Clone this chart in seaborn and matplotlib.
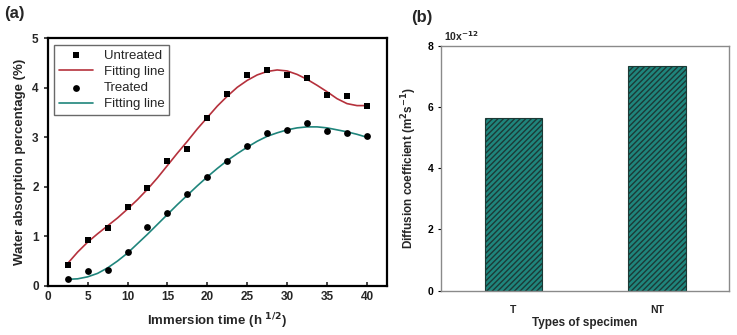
import numpy as np
import pandas as pd
import matplotlib
matplotlib.use("Agg")
import matplotlib.pyplot as plt
import seaborn as sns

# measured points (a)
time_pts = [2.5, 5, 7.5, 10, 12.5, 15, 17.5, 20, 22.5, 25, 27.5, 30, 32.5, 35, 37.5, 40]
untreated = [0.42, 0.93, 1.17, 1.59, 1.97, 2.53, 2.77, 3.39, 3.87, 4.25, 4.35, 4.26, 4.19, 3.86, 3.83, 3.63]
treated = [0.14, 0.30, 0.32, 0.68, 1.18, 1.48, 1.85, 2.20, 2.53, 2.83, 3.09, 3.14, 3.29, 3.13, 3.09, 3.03]

# fitting lines
fit_time = [2.5, 3.75, 5, 6.25, 7.5, 8.75, 10, 11.25, 12.5, 13.75, 15, 16.25, 17.5, 18.75, 20,
            21.25, 22.5, 23.75, 25, 26.25, 27.5, 28.75, 30, 31.25, 32.5, 33.75, 35, 36.25,
            37.5, 38.75, 40]
fit_untreated = [0.45, 0.68, 0.88, 1.05, 1.21, 1.37, 1.55, 1.74, 1.95, 2.18, 2.43, 2.68, 2.92,
                 3.17, 3.40, 3.63, 3.83, 4.01, 4.15, 4.26, 4.33, 4.36, 4.34, 4.27, 4.17, 4.05,
                 3.92, 3.78, 3.68, 3.64, 3.64]
fit_treated = [0.13, 0.14, 0.18, 0.25, 0.36, 0.50, 0.66, 0.85, 1.04, 1.24, 1.44, 1.64, 1.83,
               2.02, 2.20, 2.37, 2.53, 2.67, 2.80, 2.92, 3.02, 3.09, 3.15, 3.19, 3.21, 3.21,
               3.19, 3.15, 3.11, 3.06, 3.00]

# diffusion coefficients (b), in 1e-12 m2/s
specimen = ["T", "NT"]
diffusion = [5.64, 7.34]

sns.set_style("ticks")
plt.rcParams["font.family"] = ["Liberation Sans", "DejaVu Sans"]
plt.rcParams["font.weight"] = "bold"
plt.rcParams["axes.labelweight"] = "bold"
plt.rcParams["mathtext.default"] = "bf"
plt.rcParams["hatch.color"] = "#1b4a44"

red = "#b5313c"
teal = "#1f857c"

fig = plt.figure(figsize=(7.37, 3.35), dpi=100)
ax1 = fig.add_axes([0.0647, 0.147, 0.4603, 0.7387])
ax2 = fig.add_axes([0.599, 0.132, 0.390, 0.732])

# ---- panel (a)
sns.scatterplot(x=time_pts, y=untreated, marker="s", color="black", s=22, linewidth=0,
                ax=ax1, label="Untreated", zorder=3)
sns.lineplot(x=fit_time, y=fit_untreated, color=red, lw=1.2, ax=ax1, label="Fitting line")
sns.scatterplot(x=time_pts, y=treated, marker="o", color="black", s=24, linewidth=0,
                ax=ax1, label="Treated", zorder=3)
sns.lineplot(x=fit_time, y=fit_treated, color=teal, lw=1.2, ax=ax1, label="Fitting line")

ax1.set_xlim(0, 42.5)
ax1.set_ylim(0, 5)
ax1.set_xticks(np.arange(0, 41, 5))
ax1.set_yticks(np.arange(0, 6, 1))
ax1.tick_params(axis="x", direction="in", length=3, width=1.2, labelsize=8.5, pad=4)
ax1.tick_params(axis="y", direction="out", length=3, width=1.2, labelsize=8.5)
for sp in ax1.spines.values():
    sp.set_linewidth(1.6)
    sp.set_color("black")
ax1.set_xlabel("Immersion time (h $^{1/2}$)", fontsize=9.5, labelpad=6)
ax1.set_ylabel("Water absorption percentage (%)", fontsize=9.5, labelpad=4)
leg = ax1.legend(loc="upper left", fontsize=9.5, frameon=True, fancybox=False,
                 edgecolor="#444444", handlelength=2.6, borderaxespad=0.5,
                 labelspacing=0.3, borderpad=0.35)
leg.get_frame().set_linewidth(1.0)
for t in leg.get_texts():
    t.set_fontweight("normal")
fig.text(0.005, 0.945, "(a)", fontsize=12, fontweight="bold")

# ---- panel (b)
bar_df = pd.DataFrame({"Specimen": specimen, "D": diffusion})
sns.barplot(data=bar_df, x="Specimen", y="D", color=teal, width=0.4, saturation=1,
            edgecolor="#1b3a36", linewidth=0.8, ax=ax2)
for p in ax2.patches:
    p.set_hatch("//////")
ax2.set_xlim(-0.5, 1.5)
ax2.set_ylim(0, 8)
ax2.set_yticks([0, 2, 4, 6, 8])
ax2.tick_params(axis="y", direction="out", length=2.5, labelsize=7.5, colors="black")
ax2.tick_params(axis="x", length=0, labelsize=7.5, pad=10)
for sp in ax2.spines.values():
    sp.set_linewidth(1.0)
    sp.set_color("#8a8a8a")
ax2.set_xlabel("Types of specimen", fontsize=8.5, labelpad=2)
ax2.set_ylabel("Diffusion coefficient (m$^2$s$^{-1}$)", fontsize=8.5, labelpad=6)
ax2.text(0.01, 1.01, "10x$^{-12}$", transform=ax2.transAxes, fontsize=7.5, fontweight="bold",
         va="bottom")
fig.text(0.558, 0.935, "(b)", fontsize=12, fontweight="bold")

fig.savefig("out.png", dpi=100)
